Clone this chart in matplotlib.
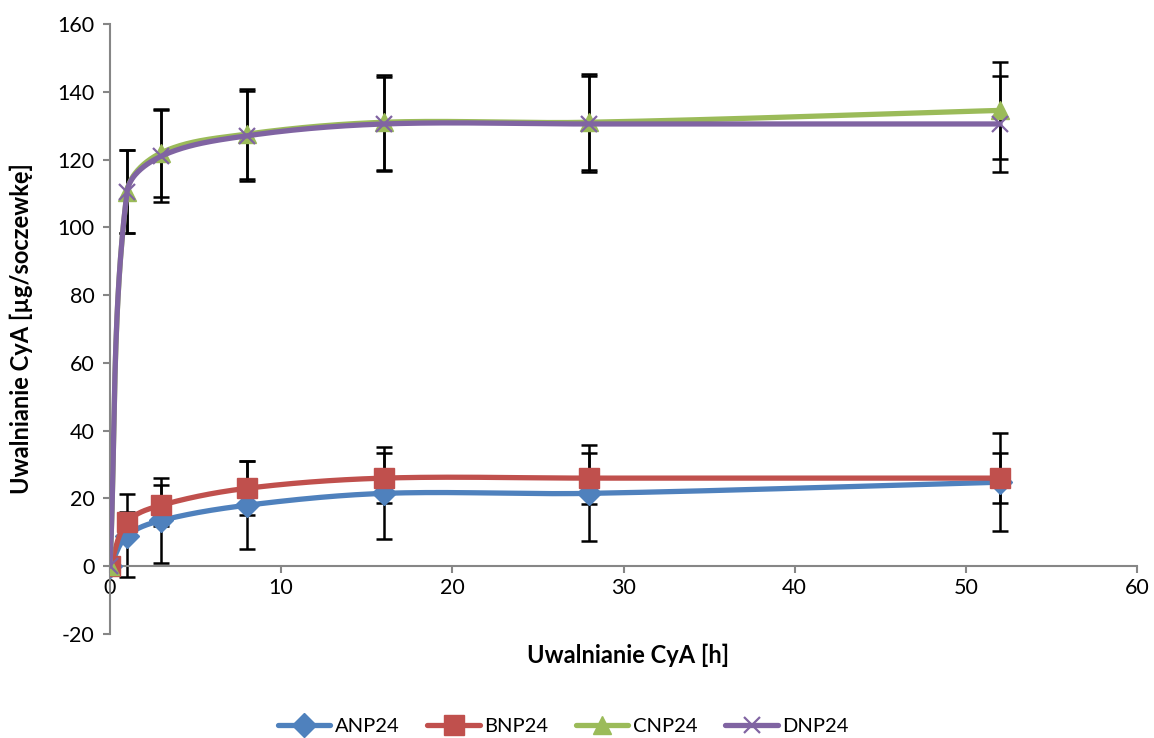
import numpy as np
import matplotlib.pyplot as plt
from matplotlib.lines import Line2D

plt.rcParams['font.family'] = ['Lato', 'DejaVu Sans']
plt.rcParams['axes.unicode_minus'] = False

hours = [0, 1, 3, 8, 16, 28, 52]
anp24 = [0, 9, 13.5, 18, 21.5, 21.5, 24.8]
bnp24 = [0, 13, 18, 23, 26, 26, 26]
cnp24 = [0, 110.5, 122, 127.5, 131, 131, 134.5]
dnp24 = [0, 110.5, 121, 127, 130.5, 130.5, 130.5]
anp24_err = [0, 12.2, 12.5, 13, 13.6, 14.2, 14.5]
bnp24_err = [0, 3, 6, 8, 7.3, 7.5, 7.3]
cnp24_err = [0, 12.2, 13, 13.2, 14, 14.2, 14.4]
dnp24_err = [0, 12.3, 13.5, 13.2, 14, 14.2, 14.2]

names = ['ANP24', 'BNP24', 'CNP24', 'DNP24']
colors = ['#4F81BD', '#C0504D', '#9BBB59', '#8064A2']
markers = ['D', 's', '^', 'x']
msizes = [12, 14, 13, 12]


def smooth(xs, ys, sx, sy, n=40):
    # bezier through the points, tangent length tied to each segment (no overshoot)
    p = np.column_stack([np.array(xs) * sx, np.array(ys) * sy])
    m = len(p)
    tang = []
    for i in range(m):
        a = p[max(i - 1, 0)]
        b = p[min(i + 1, m - 1)]
        d = b - a
        tang.append(d / np.linalg.norm(d))
    out = [p[0]]
    for i in range(m - 1):
        p1, p2 = p[i], p[i + 1]
        L = np.linalg.norm(p2 - p1)
        c1 = p1 + tang[i] * L / 3
        c2 = p2 - tang[i + 1] * L / 3
        t = np.linspace(0, 1, n)[1:, None]
        b = (1 - t) ** 3 * p1 + 3 * (1 - t) ** 2 * t * c1 + 3 * (1 - t) * t ** 2 * c2 + t ** 3 * p2
        out.extend(b)
    out = np.array(out)
    return out[:, 0] / sx, out[:, 1] / sy


fig = plt.figure(figsize=(11.54, 7.38), dpi=100)
ax = fig.add_axes([0.0953, 0.1409, 0.89, 0.8266])

sx = 1027 / 60
sy = 610 / 180
series = [anp24, bnp24, cnp24, dnp24]
errs = [anp24_err, bnp24_err, cnp24_err, dnp24_err]

for i in range(4):
    ax.errorbar(hours, series[i], yerr=errs[i], fmt='none', ecolor='black',
                elinewidth=1.8, capsize=6, capthick=1.8, zorder=2)

for i in range(4):
    cx, cy = smooth(hours, series[i], sx, sy)
    ax.plot(cx, cy, color=colors[i], lw=3.8, solid_capstyle='round', zorder=3 + i)
    if markers[i] == 'x':
        ax.plot(hours, series[i], linestyle='none', marker='x', ms=msizes[i],
                mew=1.6, color=colors[i], zorder=3 + i)
    else:
        ax.plot(hours, series[i], linestyle='none', marker=markers[i], ms=msizes[i],
                mec=colors[i], mfc=colors[i], zorder=3 + i)

ax.set_xlim(0, 60)
ax.set_ylim(-20, 160)
ax.set_xticks(range(0, 61, 10))
ax.set_yticks(range(-20, 161, 20))

ax.spines['top'].set_visible(False)
ax.spines['right'].set_visible(False)
ax.spines['bottom'].set_position(('data', 0))
for s in ['left', 'bottom']:
    ax.spines[s].set_color('#868686')
    ax.spines[s].set_linewidth(1.5)
ax.tick_params(axis='both', colors='#868686', labelcolor='black', labelsize=15.5,
               length=5, width=1.5, direction='out')
ax.tick_params(axis='y', pad=6)
ax.set_facecolor('none')

ax.set_ylabel('Uwalnianie CyA [µg/soczewkę]', fontsize=17, fontweight='bold')
ax.yaxis.set_label_coords(-0.075, 0.5)
fig.text(0.544, 0.1016, 'Uwalnianie CyA [h]', fontsize=17, fontweight='bold',
         ha='center', va='baseline')

handles = []
for i in range(4):
    if markers[i] == 'x':
        h = Line2D([], [], color=colors[i], lw=3.8, marker='x', ms=msizes[i], mew=1.6,
                   solid_capstyle='round')
    else:
        h = Line2D([], [], color=colors[i], lw=3.8, marker=markers[i], ms=msizes[i],
                   solid_capstyle='round')
    handles.append(h)
fig.legend(handles, names, loc='lower center', bbox_to_anchor=(0.488, -0.02), ncol=4,
           frameon=False, fontsize=14.5, handlelength=2.6, columnspacing=1.4, handletextpad=0.2)

fig.savefig('out.png', dpi=100)
